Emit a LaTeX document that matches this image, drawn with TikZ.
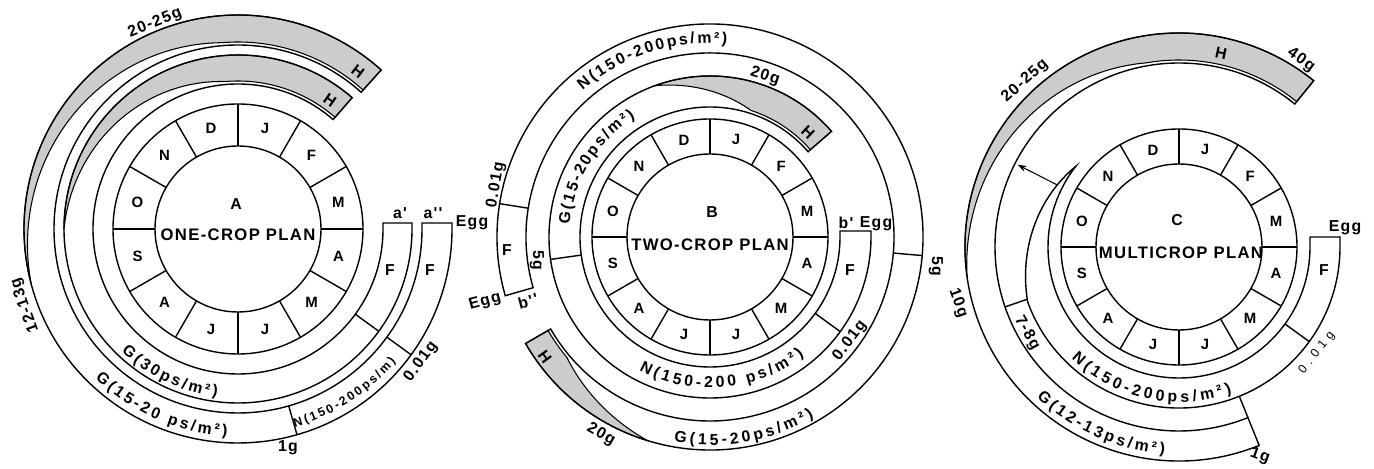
\documentclass[tikz,border=0pt]{standalone}
\usepackage{fontspec}
\setmainfont{Liberation Sans}
\newfontfamily\lsfont{Liberation Sans}[LetterSpace=8]
\newfontfamily\widefont{Liberation Sans}[LetterSpace=40]
\usetikzlibrary{decorations.text,arrows.meta}

\newcommand\monfont{\bfseries\fontsize{8.5}{9}\selectfont}
\newcommand\lblfont{\bfseries\fontsize{9}{10}\selectfont}
\newcommand\smlfont{\bfseries\fontsize{7}{8}\selectfont}
\newcommand\ttlfont{\lsfont\bfseries\fontsize{9.5}{10}\selectfont}
\newcommand\tagfont{\lsfont\bfseries\fontsize{9}{10}\selectfont}
\newcommand\thinfont{\widefont\fontsize{7}{8}\selectfont}

% month ring: #1 prefix, #2 inner radius, #3 outer radius
\newcommand\MonthRing[3]{%
  \draw (0,0) circle[radius=#2];
  \draw (0,0) circle[radius=#3];
  \foreach \ang in {0,30,...,330} \draw (\ang:#2) -- (\ang:#3);
  \foreach \mo [count=\mi from 0] in {D,J,F,M,A,M,J,J,A,S,O,N}
    \node[mon] (#1m\mi) at ({105-30*\mi}:{(#2+#3)/2}) {\mo};
}
% shaded harvest wedge: #1 start angle, #2 end angle, #3 full angle, #4 outer r, #5 full inner r
\newcommand\ShadeBand[5]{%
  \filldraw[shd] (#1:#4) arc[start angle=#1, end angle=#2, radius=#4]
    -- plot[domain=#2:#1, samples=90, variable=\myt]
       (\myt:{#4-(#4-#5)*min(1,((#1)-(\myt))/((#1)-(#3)))}) -- cycle;}
% band starting with a box on the right: #1 r in, #2 r out, #3 box top, #4 end angle
\newcommand\BoxBand[4]{%
  \draw (#1,#3) -- (0:#1) arc[start angle=0, end angle=#4, radius=#1]
    -- (#4:#2) arc[start angle=#4, end angle=0, radius=#2] -- (#2,#3) -- cycle;}
% curved text: #1 radius, #2 start angle, #3 end angle, #4 font, #5 text
\newcommand\ArcText[5]{%
  \path[decorate, decoration={text along path, text align={fit to path}, text={|#4|#5}}]
    (#2:#1) arc[start angle=#2, end angle=#3, radius=#1];}

\begin{document}
\begin{tikzpicture}[x=0.02cm, y=0.02cm, line width=0.8pt,
  mon/.style={font=\monfont, inner sep=0pt},
  tag/.style={font=\tagfont, inner sep=0pt},
  ttl/.style={font=\ttlfont, inner sep=0pt},
  shd/.style={fill=black!20, draw=black, line width=0.6pt}]
\useasboundingbox (0,0) rectangle (1374,469);

% ---------------- Panel A ----------------
\begin{scope}[shift={(238,240)}]
  \ShadeBand{180}{49}{95}{174}{148}
  \ShadeBand{195}{48}{95}{214}{187}
  \MonthRing{a}{83}{125}
  \BoxBand{145}{174}{6}{-311}
  \BoxBand{184}{214}{6}{-312}
  \draw (-36:145) -- (-36:174);
  \draw (-36:184) -- (-36:214);
  \draw (-74:184) -- (-74:214);
  \ArcText{169}{226.4}{262.9}{\lblfont}{G(30ps/m²)}
  \ArcText{207}{226.4}{267}{\lblfont}{G(15-20 ps/m²)}
  \ArcText{206}{-74}{-40}{\smlfont}{N(150-200ps/m)}
\end{scope}
\node[ttl] (ttlA) at (238,234) {ONE-CROP PLAN};
\node[tag] (nA) at (236,265) {A};
\node[tag] (ap1) at (400,256) {a'};
\node[tag] (ap2) at (433,256) {a''};
\node[tag] (egg1) at (472,246) {Egg};
\node[tag] (fa1) at (390,199) {F};
\node[tag] (fa2) at (430,199) {F};
\node[tag,rotate=54] (a001) at (421,107) {0.01g};
\node[tag] (a1g) at (288,21) {1g};
\node[tag,rotate=110] (a1213) at (25,164) {12-13g};
\node[tag,rotate=22] (a2025) at (155,446) {20-25g};
\node[tag,rotate=-37] (aH1) at (358,397) {H};
\node[tag,rotate=-35] (aH2) at (330,369) {H};

% ---------------- Panel B ----------------
\begin{scope}[shift={(710,232)}]
  \ShadeBand{110}{41}{72}{161}{133}
  \ShadeBand{-107}{-150}{-140}{213}{187}
  \MonthRing{b}{83}{118}
  \BoxBand{130}{161}{6}{-319}
  \draw (196:184) arc[start angle=196, end angle=-150, radius=184]
    -- (-150:213) arc[start angle=-150, end angle=196, radius=213] -- cycle;
  \draw (-36:130) -- (-36:161);
  \draw (188:130) -- (188:161);
  \draw (171:184) -- (171:213);
  \draw (-5:184) -- (-5:213);
  \ArcText{194}{131}{85}{\lblfont}{N(150-200ps/m²)}
  \ArcText{141}{175}{122}{\lblfont}{G(15-20ps/m²)}
  \ArcText{151}{242}{308.5}{\lblfont}{N(150-200 ps/m²)}
  \ArcText{208}{260}{300}{\lblfont}{G(15-20ps/m²)}
\end{scope}
\node[ttl] (ttlB) at (710,224) {TWO-CROP PLAN};
\node[tag] (nB) at (712,257) {B};
\node[tag] (bp1) at (846,246) {b'};
\node[tag] (egg2) at (876,245) {Egg};
\node[tag] (fb1) at (850,199) {F};
\node[tag,rotate=53] (b001r) at (850,128) {0.01g};
\node[tag,rotate=-90] (b5gr) at (936,203) {5g};
\node[tag,rotate=80] (b001l) at (496,284) {0.01g};
\node[tag] (fb2) at (507,219) {F};
\node[tag,rotate=-90] (b5gl) at (537,209) {5g};
\node[tag,rotate=15] (egg3) at (485,167) {Egg};
\node[tag,rotate=15] (bp2) at (528,168) {b''};
\node[tag,rotate=-18] (b20t) at (765,393) {20g};
\node[tag,rotate=-43] (bHt) at (808,337) {H};
\node[tag,rotate=-54] (bHb) at (545,112) {H};
\node[tag,rotate=-30] (b20b) at (601,34) {20g};

% ---------------- Panel C ----------------
\begin{scope}[shift={(1179,222)}]
  \ShadeBand{188}{51}{100}{214}{187}
  \MonthRing{c}{83}{118}
  \draw (131,10) -- (0:131) arc[start angle=0, end angle=-218, radius=131]
     -- plot[domain=-218:-160, samples=40, variable=\myt] (\myt:{131+30*((\myt)+218)/58})
     arc[start angle=-160, end angle=0, radius=161] -- (161,10) -- cycle;
  \draw (-36:131) -- (-36:161);
  \draw (-68:161) -- (-68:184);
  \draw (-68:184) -- (-68:214) arc[start angle=-68, end angle=-309, radius=214]
     -- (-309:184) arc[start angle=-309, end angle=-68, radius=184] -- cycle;
  \draw (-161:161) -- (-161:184);
  \coordinate (arrS) at (153:137);
  \coordinate (arrE) at (153:181);
  \draw[-{Stealth[length=5pt,width=3.5pt]}, line width=0.6pt] (arrS) -- (arrE);
  \ArcText{155}{226}{290}{\lblfont}{N(150-200ps/m²)}
  \ArcText{207}{226.6}{266}{\lblfont}{G(12-13ps/m²)}
\end{scope}
\node[ttl] (ttlC) at (1181,216) {MULTICROP PLAN};
\node[tag] (nC) at (1177,249) {C};
\node[tag] (egg4) at (1345,241) {Egg};
\node[tag] (fc) at (1324,199) {F};
\node[font=\thinfont, inner sep=0pt, rotate=52] (c001) at (1317,116) {0.01g};
\node[tag,rotate=-20] (c1g) at (1260,13) {1g};
\node[tag,rotate=-70] (c10g) at (958,166) {10g};
\node[tag,rotate=-60] (c78g) at (1027,136) {7-8g};
\node[tag,rotate=42] (c2025) at (1025,388) {20-25g};
\node[tag,rotate=-12] (cH) at (1221,416) {H};
\node[tag,rotate=-35] (c40g) at (1301,409) {40g};
\end{tikzpicture}
\end{document}
